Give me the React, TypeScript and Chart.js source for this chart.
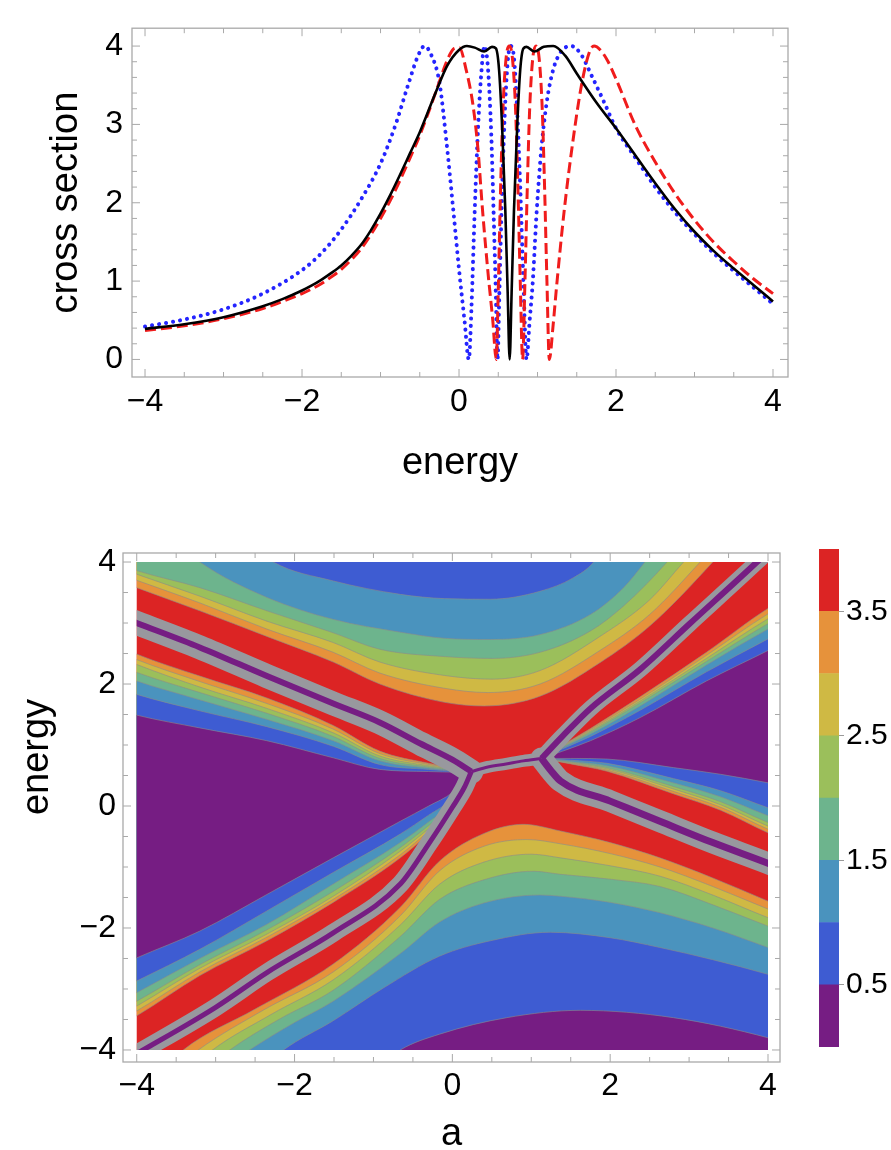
import React, { useEffect, useRef } from 'react';
import { Chart, registerables } from 'chart.js';

Chart.register(...registerables);

type Pt = [number, number];

const FONT = '"Liberation Sans", Arial, Helvetica, sans-serif';

// ================= Top panel: cross section vs energy =================
const ENERGY_TICKS = [-4, -2, 0, 2, 4];
const CROSS_TICKS = [0, 1, 2, 3, 4];

const blackCurve: Pt[] = [
  [-4, 0.39], [-3.5, 0.45], [-3, 0.54], [-2.5, 0.68], [-2.25, 0.77], [-2, 0.88], [-1.875, 0.945], [-1.75, 1.02],
  [-1.625, 1.105], [-1.5, 1.2], [-1.375, 1.32], [-1.25, 1.46], [-1.125, 1.645], [-1, 1.86], [-0.875, 2.1],
  [-0.75, 2.36], [-0.625, 2.63], [-0.5, 2.9], [-0.3, 3.4], [-0.15, 3.75], [0, 3.95], [0.1, 4.0], [0.2, 3.98],
  [0.32, 3.93], [0.42, 3.99], [0.47, 3.97], [0.51, 3.7], [0.55, 2.95], [0.59, 1.9], [0.62, 0.85], [0.645, 0],
  [0.67, 0.85], [0.7, 1.9], [0.74, 2.95], [0.78, 3.7], [0.82, 3.97], [0.86, 3.99], [0.96, 3.93], [1.08, 3.99],
  [1.2, 4.0], [1.35, 3.88], [1.5, 3.65], [1.75, 3.28], [2, 2.95], [2.25, 2.6], [2.5, 2.25], [2.75, 1.92],
  [3, 1.63], [3.25, 1.38], [3.5, 1.16], [3.75, 0.95], [4, 0.74],
];

const redCurve: Pt[] = [
  [-4, 0.37], [-3.5, 0.43], [-3, 0.52], [-2.5, 0.65], [-2.25, 0.74], [-2, 0.84], [-1.875, 0.9], [-1.75, 0.97],
  [-1.625, 1.055], [-1.5, 1.15], [-1.375, 1.27], [-1.25, 1.41], [-1.125, 1.59], [-1, 1.8], [-0.875, 2.03],
  [-0.75, 2.29], [-0.625, 2.57], [-0.5, 2.86], [-0.3, 3.4], [-0.15, 3.82], [-0.06, 3.97], [0.006, 3.98], [0.09, 3.7],
  [0.176, 3.26], [0.24, 2.7], [0.3, 1.9], [0.37, 1.1], [0.43, 0.5], [0.474, 0], [0.5, 0.9], [0.53, 2.2],
  [0.56, 3.2], [0.6, 3.85], [0.64, 4.0], [0.68, 3.85], [0.72, 3.2], [0.75, 2.2], [0.78, 1.0], [0.81, 0],
  [0.84, 1.0], [0.87, 2.2], [0.9, 3.2], [0.94, 3.85], [0.98, 4.0], [1.02, 3.85], [1.06, 3.2], [1.09, 2.2],
  [1.12, 1.0], [1.15, 0], [1.2, 0.45], [1.24, 0.9], [1.34, 1.9], [1.45, 2.78], [1.56, 3.5], [1.66, 3.92],
  [1.72, 4.0], [1.8, 3.95], [1.9, 3.8], [2.0, 3.58], [2.25, 2.98], [2.5, 2.52], [2.75, 2.12], [3, 1.78],
  [3.25, 1.49], [3.5, 1.25], [3.75, 1.03], [4, 0.84],
];

const blueCurve: Pt[] = [
  [-4, 0.42], [-3.5, 0.51], [-3, 0.64], [-2.5, 0.84], [-2, 1.14], [-1.75, 1.36], [-1.5, 1.66], [-1.25, 2.04],
  [-1, 2.5], [-0.8, 3.02], [-0.65, 3.5], [-0.52, 3.88], [-0.44, 4.0], [-0.36, 3.9], [-0.25, 3.54], [-0.16, 2.78],
  [-0.08, 1.98], [0, 1.15], [0.07, 0.5], [0.125, 0], [0.16, 0.7], [0.2, 1.9], [0.24, 2.9], [0.28, 3.6],
  [0.325, 4.0], [0.37, 3.7], [0.41, 2.9], [0.44, 1.9], [0.47, 0.8], [0.49, 0], [0.515, 0.9], [0.55, 2.2],
  [0.59, 3.3], [0.625, 3.85], [0.66, 4.0], [0.7, 3.85], [0.74, 3.2], [0.78, 2.2], [0.82, 1.0], [0.86, 0],
  [0.9, 0.5], [0.94, 1.0], [0.99, 1.9], [1.05, 2.7], [1.12, 3.3], [1.2, 3.7], [1.3, 3.93], [1.43, 4.0],
  [1.55, 3.9], [1.7, 3.6], [1.85, 3.28], [2, 2.95], [2.25, 2.57], [2.5, 2.2], [2.75, 1.88], [3, 1.6],
  [3.25, 1.35], [3.5, 1.13], [3.75, 0.92], [4, 0.71],
];

// ================= Bottom panel: contour of cross section over (a, energy) =================
const A_TICKS = [-4, -2, 0, 2, 4];
const E_TICKS = [-4, -2, 0, 2, 4];
const LEVELS = [3.5, 3, 2.5, 2, 1.5, 1, 0.5];
const COLORBAR_TICKS = [0.5, 1.5, 2.5, 3.5];
// band colours from highest (> 3.5) to lowest (< 0.5)
const BAND_COLORS = ['#dc2424', '#e6923b', '#cfb944', '#9bbf5b', '#6db48d', '#4a93be', '#3e5cd2', '#761d83'];
const STRIPE_GREY = 'rgb(152,152,158)';
const CONTOUR_LINE = 'rgba(140,140,140,0.75)';

// whole data square (values above 3.5)
const BASE_AREA: Pt[] = [[-4.6, 4.6], [4.6, 4.6]];

// level curves of the upper region (3.5, 3, 2.5, 2, 1.5, 1)
const TOP_CURVES: Pt[][] = [
  [[-4.6, 3.88], [-4, 3.58], [-3.2, 3.2], [-2.35, 2.78], [-1.51, 2.36], [-0.92, 2.0], [-0.1, 1.7], [0.4, 1.64], [1.11, 1.8], [1.87, 2.35], [2.5, 2.95], [3.3, 4.0], [3.6, 4.45]],
  [[-4.6, 3.98], [-4, 3.7], [-3.2, 3.33], [-2.35, 2.9], [-1.51, 2.52], [-0.92, 2.18], [-0.1, 1.93], [0.45, 1.86], [1.11, 2.0], [1.87, 2.55], [2.5, 3.14], [3.14, 4.0], [3.45, 4.45]],
  [[-4.6, 4.08], [-4, 3.8], [-3.2, 3.44], [-2.35, 3.03], [-1.51, 2.68], [-0.92, 2.36], [-0.1, 2.14], [0.5, 2.08], [1.11, 2.22], [1.87, 2.78], [2.5, 3.38], [2.93, 4.0], [3.25, 4.45]],
  [[-4.6, 4.15], [-4, 3.86], [-3.2, 3.58], [-2.35, 3.2], [-1.51, 2.84], [-0.92, 2.57], [-0.1, 2.45], [0.5, 2.42], [1.11, 2.52], [1.75, 2.87], [2.17, 3.28], [2.72, 4.0], [3.0, 4.45]],
  [[-3.6, 4.45], [-3.2, 4.0], [-2.35, 3.42], [-1.51, 3.06], [-0.66, 2.85], [-0.1, 2.75], [0.48, 2.73], [1.11, 2.81], [1.75, 3.14], [2.17, 3.58], [2.44, 4.0], [2.7, 4.45]],
  [[-2.7, 4.45], [-2.27, 4.0], [-1.51, 3.69], [-0.66, 3.47], [-0.1, 3.4], [0.48, 3.39], [1.11, 3.52], [1.53, 3.74], [1.79, 4.0], [2.0, 4.45]],
];

// level curves of the lower region (3.5 ... 0.5)
const BOTTOM_CURVES: Pt[][] = [
  [[-3.6, -4.25], [-3.41, -4], [-2.5, -3.33], [-1.51, -2.59], [-0.66, -1.66], [-0.16, -0.9], [0.4, -0.45], [0.9, -0.3], [1.37, -0.41], [2.0, -0.6], [2.63, -0.85], [3.3, -1.18], [4, -1.56], [4.6, -1.9]],
  [[-3.5, -4.3], [-3.22, -4], [-2.4, -3.35], [-1.51, -2.72], [-0.66, -1.8], [-0.16, -1.06], [0.4, -0.66], [0.95, -0.55], [1.37, -0.62], [2.0, -0.78], [2.63, -1.0], [3.3, -1.32], [4, -1.69], [4.6, -2.0]],
  [[-3.3, -4.3], [-3.04, -4], [-2.3, -3.42], [-1.51, -2.85], [-0.66, -1.95], [-0.16, -1.28], [0.4, -0.92], [1.0, -0.79], [1.37, -0.85], [2.0, -0.98], [2.63, -1.15], [3.3, -1.46], [4, -1.83], [4.6, -2.1]],
  [[-3.1, -4.3], [-2.82, -4], [-2.2, -3.5], [-1.51, -3.02], [-0.66, -2.14], [-0.16, -1.53], [0.4, -1.21], [1.03, -1.07], [1.37, -1.12], [2.0, -1.2], [2.63, -1.32], [3.3, -1.62], [4, -1.97], [4.6, -2.25]],
  [[-2.9, -4.3], [-2.57, -4], [-2.0, -3.55], [-1.51, -3.2], [-0.66, -2.42], [-0.16, -1.9], [0.4, -1.59], [1.11, -1.46], [1.37, -1.48], [2.0, -1.58], [2.63, -1.75], [3.3, -2.0], [4, -2.32], [4.6, -2.6]],
  [[-2.4, -4.3], [-2.14, -4], [-1.51, -3.52], [-0.87, -2.98], [-0.16, -2.46], [0.48, -2.21], [1.24, -2.07], [2.0, -2.16], [2.63, -2.32], [3.3, -2.52], [4, -2.76], [4.6, -3.0]],
  [[-0.95, -4.3], [-0.66, -4], [-0.16, -3.74], [0.69, -3.47], [1.62, -3.35], [2.8, -3.47], [4, -3.8], [4.6, -4.05]],
];

// left low-value wedge: upper and lower boundaries for each level, meeting at the left node
const LEFT_UP_A = [-4.6, -4, -3.2, -2.35, -1.51, -0.92, -0.3, 0.05, 0.24];
const LEFT_UP_E = [
  [2.85, 2.49, 2.13, 1.77, 1.32, 0.9, 0.7, 0.62, 0.565],
  [2.74, 2.4, 2.04, 1.68, 1.26, 0.86, 0.68, 0.61, 0.565],
  [2.64, 2.32, 1.95, 1.6, 1.2, 0.82, 0.66, 0.6, 0.565],
  [2.5, 2.19, 1.86, 1.52, 1.14, 0.78, 0.64, 0.59, 0.565],
  [2.35, 2.05, 1.74, 1.42, 1.07, 0.74, 0.62, 0.58, 0.565],
  [2.1, 1.83, 1.56, 1.3, 0.98, 0.68, 0.6, 0.57, 0.565],
  [1.72, 1.49, 1.28, 1.07, 0.79, 0.6, 0.565, 0.555, 0.565],
];
const LEFT_LOW_A = [-4.6, -4, -3.2, -2.35, -1.51, -0.66, -0.3, 0.0, 0.15, 0.24];
const LEFT_LOW_E = [
  [-3.86, -3.44, -2.78, -2.21, -1.58, -0.85, -0.45, -0.09, 0.24, 0.565],
  [-3.78, -3.36, -2.72, -2.15, -1.53, -0.8, -0.41, -0.06, 0.26, 0.565],
  [-3.7, -3.28, -2.66, -2.1, -1.48, -0.74, -0.37, -0.03, 0.28, 0.565],
  [-3.6, -3.2, -2.6, -2.03, -1.4, -0.68, -0.32, 0.0, 0.3, 0.565],
  [-3.45, -3.06, -2.5, -1.94, -1.28, -0.6, -0.26, 0.05, 0.32, 0.565],
  [-3.25, -2.87, -2.35, -1.72, -1.09, -0.46, -0.15, 0.12, 0.36, 0.565],
  [-2.85, -2.49, -2.05, -1.45, -0.85, -0.25, 0.0, 0.22, 0.42, 0.565],
];

// right low-value wedge, meeting at the right node
const RIGHT_UP_A = [1.13, 1.4, 1.75, 2.38, 3.22, 4.0, 4.6];
const RIGHT_UP_E = [
  [0.78, 1.0, 1.27, 1.79, 2.52, 3.24, 3.66],
  [0.78, 0.99, 1.25, 1.75, 2.47, 3.15, 3.58],
  [0.78, 0.98, 1.23, 1.72, 2.42, 3.07, 3.5],
  [0.78, 0.97, 1.21, 1.69, 2.37, 2.99, 3.4],
  [0.78, 0.96, 1.18, 1.64, 2.31, 2.9, 3.3],
  [0.78, 0.94, 1.14, 1.57, 2.2, 2.74, 3.15],
  [0.78, 0.9, 1.07, 1.45, 2.05, 2.55, 2.95],
];
const RIGHT_LOW_A = [1.13, 1.5, 1.96, 2.8, 3.4, 4.0, 4.6];
const RIGHT_LOW_E = [
  [0.78, 0.69, 0.57, 0.2, -0.07, -0.44, -0.76],
  [0.78, 0.7, 0.59, 0.24, -0.02, -0.38, -0.7],
  [0.78, 0.71, 0.61, 0.28, 0.02, -0.33, -0.64],
  [0.78, 0.72, 0.63, 0.32, 0.07, -0.27, -0.57],
  [0.78, 0.73, 0.66, 0.38, 0.15, -0.16, -0.45],
  [0.78, 0.75, 0.7, 0.45, 0.25, -0.03, -0.3],
  [0.78, 0.78, 0.77, 0.63, 0.52, 0.38, 0.22],
];

// zero lines of the cross section inside the four arms, and the lens between the nodes
const ZERO_TOP_LEFT: Pt[] = [[-4.4, 3.2], [-4, 3.0], [-3.2, 2.6], [-2.35, 2.13], [-1.51, 1.68], [-0.92, 1.37], [-0.4, 1.02], [0.0, 0.76], [0.24, 0.565]];
const ZERO_BOTTOM_LEFT: Pt[] = [[-4.3, -4.28], [-3.92, -4.0], [-3.0, -3.3], [-2.35, -2.73], [-1.51, -2.08], [-0.66, -1.28], [-0.3, -0.62], [0.0, -0.02], [0.15, 0.3], [0.24, 0.565]];
const ZERO_TOP_RIGHT: Pt[] = [[1.13, 0.78], [1.4, 1.15], [1.75, 1.6], [2.38, 2.24], [3.0, 2.98], [3.86, 4.0], [4.2, 4.42]];
const ZERO_BOTTOM_RIGHT: Pt[] = [[1.13, 0.78], [1.25, 0.58], [1.37, 0.41], [2.0, 0.08], [2.63, -0.25], [3.3, -0.6], [4, -0.94], [4.6, -1.25]];
const NODE_LENS: Pt[] = [[0.24, 0.565], [0.45, 0.64], [0.68, 0.69], [0.9, 0.74], [1.13, 0.78]];

// ================= helpers =================
const toXY = (pts: Pt[]) => pts.map(([x, y]) => ({ x, y }));
const zip = (xs: number[], ys: number[]): Pt[] => xs.map((x, i) => [x, ys[i]] as Pt);
const fmt = (v: number) => (v < 0 ? '\u2212' + Math.abs(v) : String(v));

function framePlugin(cfg: { xFrom: number; xTo: number; xStep: number; xMajorEvery: number; yFrom: number; yTo: number; yStep: number; yMajorEvery: number; }) {
  return {
    id: 'mmaFrame',
    afterDraw(chart: any) {
      const { ctx, chartArea } = chart;
      const { left, right, top, bottom } = chartArea;
      const xs = chart.scales.x;
      const ys = chart.scales.y;
      ctx.save();
      ctx.strokeStyle = '#a9a9a9';
      ctx.lineWidth = 1.3;
      ctx.strokeRect(left, top, right - left, bottom - top);
      ctx.beginPath();
      const nx = Math.round((cfg.xTo - cfg.xFrom) / cfg.xStep);
      for (let i = 0; i <= nx; i++) {
        const px = xs.getPixelForValue(cfg.xFrom + i * cfg.xStep);
        const len = i % cfg.xMajorEvery === 0 ? 8 : 5;
        ctx.moveTo(px, bottom); ctx.lineTo(px, bottom - len);
        ctx.moveTo(px, top); ctx.lineTo(px, top + len);
      }
      const ny = Math.round((cfg.yTo - cfg.yFrom) / cfg.yStep);
      for (let i = 0; i <= ny; i++) {
        const py = ys.getPixelForValue(cfg.yFrom + i * cfg.yStep);
        const len = i % cfg.yMajorEvery === 0 ? 8 : 5;
        ctx.moveTo(left, py); ctx.lineTo(left + len, py);
        ctx.moveTo(right, py); ctx.lineTo(right - len, py);
      }
      ctx.lineWidth = 1;
      ctx.stroke();
      ctx.restore();
    },
  };
}

const dataClipPlugin = {
  id: 'dataClip',
  beforeDatasetsDraw(chart: any) {
    const { ctx } = chart;
    const xs = chart.scales.x;
    const ys = chart.scales.y;
    const l = xs.getPixelForValue(-4), r = xs.getPixelForValue(4);
    const t = ys.getPixelForValue(4), b = ys.getPixelForValue(-4);
    ctx.save();
    ctx.beginPath();
    ctx.rect(l, t, r - l, b - t);
    ctx.clip();
  },
  afterDatasetsDraw(chart: any) {
    chart.ctx.restore();
  },
};

const energyTitlePlugin = {
  id: 'energyTitle',
  afterDraw(chart: any) {
    const { ctx, chartArea } = chart;
    ctx.save();
    ctx.translate(38, chartArea.top + 204);
    ctx.rotate(-Math.PI / 2);
    ctx.font = `38px ${FONT}`;
    ctx.fillStyle = '#000';
    ctx.textAlign = 'center';
    ctx.textBaseline = 'middle';
    ctx.fillText('energy', 0, 0);
    ctx.restore();
  },
};

function topConfig(): any {
  const common = { pointRadius: 0, fill: false, cubicInterpolationMode: 'monotone' };
  return {
    type: 'line',
    data: {
      datasets: [
        { ...common, data: toXY(blackCurve), borderColor: '#000000', borderWidth: 2.6 },
        { ...common, data: toXY(redCurve), borderColor: '#f01c1c', borderWidth: 3, borderDash: [11, 5] },
        { ...common, data: toXY(blueCurve), borderColor: '#2424ff', borderWidth: 4, borderDash: [0.1, 7], borderCapStyle: 'round' },
      ],
    },
    options: {
      responsive: false,
      maintainAspectRatio: false,
      animation: false,
      events: [],
      layout: { padding: { left: 0, right: 103, top: 6, bottom: 0 } },
      plugins: { legend: { display: false }, tooltip: { enabled: false } },
      scales: {
        x: {
          type: 'linear', min: -4.166, max: 4.191,
          afterBuildTicks: (s: any) => { s.ticks = ENERGY_TICKS.map((v) => ({ value: v })); },
          afterFit: (s: any) => { s.height = 123; },
          grid: { display: false, drawTicks: false },
          border: { display: false },
          ticks: { autoSkip: false, maxRotation: 0, padding: 6, color: '#000', font: { family: FONT, size: 32 }, callback: (v: number) => fmt(v) },
          title: { display: true, text: 'energy', color: '#000', font: { family: FONT, size: 38, lineHeight: 1 }, padding: { top: 0, bottom: 17 } },
        },
        y: {
          type: 'linear', min: -0.224, max: 4.228,
          afterBuildTicks: (s: any) => { s.ticks = CROSS_TICKS.map((v) => ({ value: v })); },
          afterFit: (s: any) => { s.width = 132; },
          grid: { display: false, drawTicks: false },
          border: { display: false },
          ticks: { autoSkip: false, padding: 9, color: '#000', font: { family: FONT, size: 32 }, callback: (v: number) => fmt(v) },
          title: { display: true, text: 'cross section', color: '#000', font: { family: FONT, size: 38, lineHeight: 1 }, padding: { top: 48, bottom: 0 } },
        },
      },
    },
    plugins: [framePlugin({ xFrom: -4, xTo: 4, xStep: 0.5, xMajorEvery: 4, yFrom: 0, yTo: 4, yStep: 0.2, yMajorEvery: 5 })],
  };
}

function contourConfig(): any {
  const ds: any[] = [];
  const line = (pts: Pt[], extra: any = {}) => ({
    data: toXY(pts), pointRadius: 0, borderWidth: 0.8, borderColor: CONTOUR_LINE,
    cubicInterpolationMode: 'monotone', fill: false, ...extra,
  });
  ds.push(line(BASE_AREA, { fill: 'start', backgroundColor: BAND_COLORS[0], borderWidth: 0 }));
  LEVELS.forEach((_lv, k) => {
    const col = BAND_COLORS[k + 1];
    if (TOP_CURVES[k]) ds.push(line(TOP_CURVES[k], { fill: 'end', backgroundColor: col }));
    ds.push(line(BOTTOM_CURVES[k], { fill: 'start', backgroundColor: col }));
    ds.push(line(zip(LEFT_UP_A, LEFT_UP_E[k]), { fill: '+1', backgroundColor: col }));
    ds.push(line(zip(LEFT_LOW_A, LEFT_LOW_E[k])));
    ds.push(line(zip(RIGHT_UP_A, RIGHT_UP_E[k]), { fill: '+1', backgroundColor: col }));
    ds.push(line(zip(RIGHT_LOW_A, RIGHT_LOW_E[k])));
  });
  const stripes: [Pt[], number, number][] = [
    [ZERO_TOP_LEFT, 24, 6],
    [ZERO_BOTTOM_LEFT, 18, 5],
    [ZERO_TOP_RIGHT, 16, 6],
    [ZERO_BOTTOM_RIGHT, 22, 7],
    [NODE_LENS, 12, 3],
  ];
  stripes.forEach(([pts, w]) => ds.push(line(pts, { borderColor: STRIPE_GREY, borderWidth: w, borderCapStyle: 'round' })));
  stripes.forEach(([pts, , w]) => ds.push(line(pts, { borderColor: BAND_COLORS[7], borderWidth: w })));
  ds.forEach((d, i) => { d.order = ds.length - i; });

  return {
    type: 'line',
    data: { datasets: ds },
    options: {
      responsive: false,
      maintainAspectRatio: false,
      animation: false,
      events: [],
      layout: { padding: { left: 0, right: 111, top: 53, bottom: 0 } },
      plugins: { legend: { display: false }, tooltip: { enabled: false } },
      scales: {
        x: {
          type: 'linear', min: -4.174, max: 4.152,
          afterBuildTicks: (s: any) => { s.ticks = A_TICKS.map((v) => ({ value: v })); },
          afterFit: (s: any) => { s.height = 88; },
          grid: { display: false, drawTicks: false },
          border: { display: false },
          ticks: { autoSkip: false, maxRotation: 0, padding: 5, color: '#000', font: { family: FONT, size: 32 }, callback: (v: number) => fmt(v) },
          title: { display: true, text: 'a', color: '#000', font: { family: FONT, size: 38, lineHeight: 1 }, padding: { top: 0, bottom: -4 } },
        },
        y: {
          type: 'linear', min: -4.197, max: 4.148,
          afterBuildTicks: (s: any) => { s.ticks = E_TICKS.map((v) => ({ value: v })); },
          afterFit: (s: any) => { s.width = 123; },
          grid: { display: false, drawTicks: false },
          border: { display: false },
          ticks: { autoSkip: false, padding: 7, color: '#000', font: { family: FONT, size: 32 }, callback: (v: number) => fmt(v) },
        },
      },
    },
    plugins: [dataClipPlugin, framePlugin({ xFrom: -4, xTo: 4, xStep: 0.5, xMajorEvery: 4, yFrom: -4, yTo: 4, yStep: 0.5, yMajorEvery: 4 }), energyTitlePlugin],
  };
}

function colorbarConfig(): any {
  const segs = BAND_COLORS.slice().reverse();
  return {
    type: 'bar',
    data: {
      labels: [''],
      datasets: segs.map((c) => ({ data: [0.5], backgroundColor: c, borderWidth: 0, barPercentage: 1, categoryPercentage: 1 })),
    },
    options: {
      responsive: false,
      maintainAspectRatio: false,
      animation: false,
      events: [],
      layout: { padding: { left: 29, right: 0, top: 49, bottom: 53 } },
      plugins: { legend: { display: false }, tooltip: { enabled: false } },
      scales: {
        x: { stacked: true, display: false },
        y: {
          stacked: true, position: 'right', min: 0, max: 4,
          afterBuildTicks: (s: any) => { s.ticks = COLORBAR_TICKS.map((v) => ({ value: v })); },
          afterFit: (s: any) => { s.width = 52; },
          grid: { display: true, drawOnChartArea: false, drawTicks: true, tickLength: 5, color: '#9a9a9a' },
          border: { display: false },
          ticks: { autoSkip: false, padding: 2, color: '#000', font: { family: FONT, size: 30 }, callback: (v: number) => String(v) },
        },
      },
    },
  };
}

function ChartCanvas({ make, left, top, width, height }: { make: () => any; left: number; top: number; width: number; height: number }) {
  const ref = useRef<HTMLCanvasElement>(null);
  useEffect(() => {
    if (!ref.current) return;
    const chart = new Chart(ref.current, make());
    return () => chart.destroy();
  }, []);
  return (
    <canvas
      ref={ref}
      width={width}
      height={height}
      style={{ position: 'absolute', left, top, width, height }}
    />
  );
}

export default function App() {
  return (
    <div style={{ position: 'absolute', left: 0, top: 0, width: 891, height: 1150, background: '#ffffff', overflow: 'hidden' }}>
      <ChartCanvas make={topConfig} left={0} top={0} width={891} height={500} />
      <ChartCanvas make={contourConfig} left={0} top={500} width={891} height={650} />
      <ChartCanvas make={colorbarConfig} left={790} top={500} width={101} height={600} />
    </div>
  );
}
